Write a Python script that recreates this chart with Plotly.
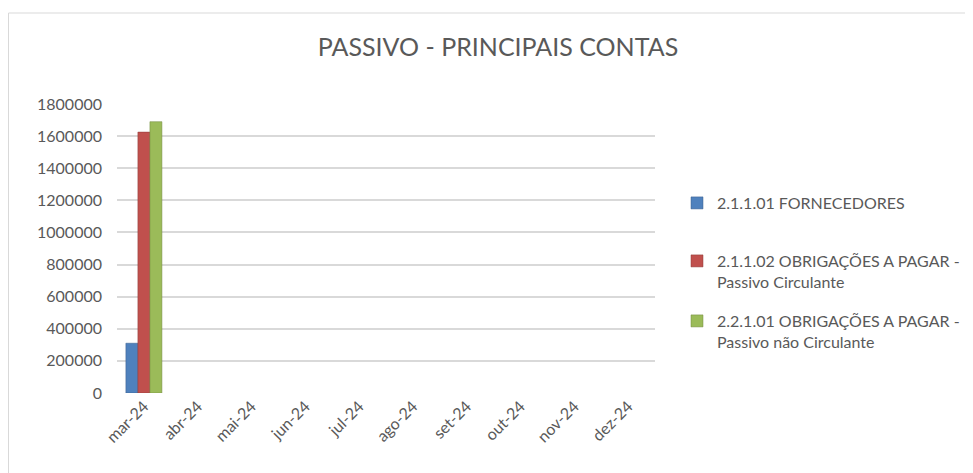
import plotly.graph_objects as go

months = ["mar-24", "abr-24", "mai-24", "jun-24", "jul-24", "ago-24", "set-24", "out-24", "nov-24", "dez-24"]
series_names = [
    "2.1.1.01 FORNECEDORES",
    "2.1.1.02 OBRIGAÇÕES A PAGAR -<br>Passivo Circulante",
    "2.2.1.01 OBRIGAÇÕES A PAGAR -<br>Passivo não Circulante",
]
fornecedores = [310000, None, None, None, None, None, None, None, None, None]
obrig_circ = [1625000, None, None, None, None, None, None, None, None, None]
obrig_nao_circ = [1690000, None, None, None, None, None, None, None, None, None]
y_ticks = [0, 200000, 400000, 600000, 800000, 1000000, 1200000, 1400000, 1600000, 1800000]

colors = ["#4f81bd", "#c0504d", "#9bbb59"]
edge = ["#385d8a", "#8c3836", "#71893f"]
FONT = "Lato, Liberation Sans, sans-serif"
TXT = "#595959"

OFF = 8  # page body margin
W, H = 965, 465
ML, MR, MT, MB = 109, 318, 96, 80
PW, PH = W - ML - MR, H - MT - MB


def px_x(sx):
    return (sx - OFF - ML) / PW


def px_y(sy):
    return (H - MB - (sy - OFF)) / PH


fig = go.Figure()
legends = ["legend", "legend2", "legend3"]
for vals, name, c, e, lg in zip([fornecedores, obrig_circ, obrig_nao_circ], series_names, colors, edge, legends):
    fig.add_trace(go.Bar(
        x=months, y=vals, name=name, marker=dict(color=c, line=dict(color=e, width=0.5)),
        legend=lg, showlegend=True,
    ))

legend_tops = [186, 244, 304]
leg_common = dict(
    xanchor="left", yanchor="top", bgcolor="rgba(0,0,0,0)",
    font=dict(family=FONT, size=16, color=TXT), valign="top",
    itemwidth=30, tracegroupgap=0, visible=True,
)
layout_legends = {}
for lg, top in zip(legends, legend_tops):
    layout_legends[lg] = dict(x=px_x(677), y=px_y(top), **leg_common)

fig.update_layout(
    width=W, height=H, showlegend=True,
    margin=dict(l=ML, r=MR, t=MT, b=MB, autoexpand=False),
    paper_bgcolor="white", plot_bgcolor="white",
    barmode="group", bargap=0.33, bargroupgap=0,
    title=dict(text="PASSIVO - PRINCIPAIS CONTAS", xref="container", x=(498 - OFF) / W, xanchor="center",
               yref="container", y=1 - (47 - OFF) / H, yanchor="middle",
               font=dict(family=FONT, size=25, color=TXT)),
    font=dict(family=FONT, color=TXT),
    xaxis=dict(categoryorder="array", categoryarray=months, tickangle=-45,
               tickfont=dict(family=FONT, size=16, color=TXT), showgrid=False,
               showline=False, ticks="", range=[-0.5, len(months) - 0.5]),
    yaxis=dict(range=[0, 1800000], tickvals=y_ticks, ticktext=[str(v) for v in y_ticks],
               tickfont=dict(family=FONT, size=16, color=TXT), showgrid=True,
               gridcolor="#d9d9d9", gridwidth=1.5, zeroline=False, showline=False,
               ticks="", ticklabelstandoff=14),
    shapes=[
        dict(type="line", xref="paper", yref="paper", x0=px_x(8.5), x1=px_x(980), y0=px_y(13), y1=px_y(13),
             line=dict(color="#d9d9d9", width=1)),
        dict(type="line", xref="paper", yref="paper", x0=px_x(8.5), x1=px_x(8.5), y0=px_y(13), y1=px_y(480),
             line=dict(color="#d9d9d9", width=1)),
    ],
    **layout_legends,
)

fig.write_html("out.html")
